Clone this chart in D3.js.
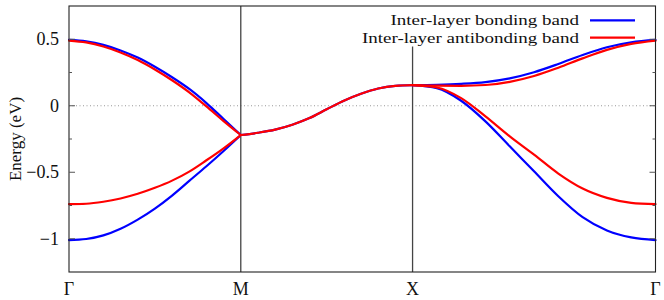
<!DOCTYPE html>
<html>
<head>
<meta charset="utf-8">
<script src="https://cdn.jsdelivr.net/npm/d3@7"></script>
<style>
  html, body { margin: 0; padding: 0; background: #fff; }
  svg { display: block; }
  text { font-family: "Liberation Serif", "Times New Roman", serif; fill: #111; }
</style>
</head>
<body>
<svg id="chart" width="664" height="300"></svg>
<script>
// ---- data ----
const kLabels = ["Γ", "M", "X", "Γ"];
const kPos = [0, 1, 2, 3.4142];           // path distance of high-symmetry points
const frac = [0, 0.1, 0.2, 0.3, 0.4, 0.5, 0.6, 0.7, 0.8, 0.9, 1.0]; // sample fraction along each segment

// Inter-layer bonding band (blue), two branches, per segment
const bondUpperGM = [0.495, 0.484, 0.458, 0.416, 0.362, 0.293, 0.214, 0.126, 0.02, -0.1, -0.22];
const bondLowerGM = [-1.01, -1.002, -0.975, -0.925, -0.856, -0.773, -0.675, -0.565, -0.455, -0.34, -0.22];
const bondMX      = [-0.22, -0.203, -0.18, -0.143, -0.093, -0.027, 0.038, 0.09, 0.13, 0.15, 0.155];
const bondUpperXG = [0.155, 0.158, 0.165, 0.178, 0.206, 0.252, 0.314, 0.382, 0.44, 0.477, 0.495];
const bondLowerXG = [0.155, 0.1325, 0.0375, -0.1175, -0.305, -0.4925, -0.68, -0.8375, -0.9375, -0.99, -1.01];

// Inter-layer antibonding band (red)
const antiUpperGM = [0.49, 0.476, 0.446, 0.401, 0.344, 0.273, 0.192, 0.101, -0.005, -0.115, -0.22];
const antiLowerGM = [-0.74, -0.737, -0.722, -0.697, -0.662, -0.617, -0.563, -0.495, -0.41, -0.32, -0.22];
const antiMX      = [-0.22, -0.203, -0.18, -0.143, -0.093, -0.027, 0.038, 0.09, 0.13, 0.15, 0.155];
const antiUpperXG = [0.155, 0.151, 0.15, 0.156, 0.18, 0.224, 0.286, 0.356, 0.42, 0.465, 0.49];
const antiLowerXG = [0.155, 0.1375, 0.0575, -0.08, -0.23, -0.3675, -0.51, -0.6225, -0.6925, -0.73, -0.74];

const yTicks = [-1, -0.5, 0, 0.5];
const yMinorTicks = [-1, -0.75, -0.5, -0.25, 0, 0.25, 0.5];
const yTickLabels = ["−1", "−0.5", "0", "0.5"];
const legendLabels = ["Inter-layer bonding band", "Inter-layer antibonding band"];
const colors = ["#0000ff", "#ff0000"];

// ---- layout ----
const W = 664, H = 300;
const mLeft = 69, mRight = 655.5, mTop = 6, mBottom = 272;

const svg = d3.select("#chart");
const x = d3.scaleLinear().domain([kPos[0], kPos[3]]).range([mLeft, mRight]);
const y = d3.scaleLinear().domain([-1.25, 0.75]).range([mBottom, mTop]);

// zero line
svg.append("line")
  .attr("x1", mLeft).attr("x2", mRight)
  .attr("y1", y(0)).attr("y2", y(0))
  .attr("stroke", "#999").attr("stroke-width", 1)
  .attr("stroke-dasharray", "1,2.5");

// vertical lines at M and X
const legendBottom = 46.5;
svg.append("line")
  .attr("x1", x(kPos[1])).attr("x2", x(kPos[1]))
  .attr("y1", mTop).attr("y2", mBottom)
  .attr("stroke", "#444").attr("stroke-width", 1.3);
svg.append("line")
  .attr("x1", x(kPos[2])).attr("x2", x(kPos[2]))
  .attr("y1", legendBottom).attr("y2", mBottom)
  .attr("stroke", "#444").attr("stroke-width", 1.3);

// curves
function segPoints(vals, seg) {
  const a = kPos[seg], b = kPos[seg + 1];
  return vals.map((v, i) => [a + frac[i] * (b - a), v]);
}
const line = d3.line()
  .x(d => x(d[0])).y(d => y(d[1]))
  .curve(d3.curveMonotoneX);

const series = [
  { color: colors[0], segs: [[bondUpperGM, 0], [bondLowerGM, 0], [bondMX, 1], [bondUpperXG, 2], [bondLowerXG, 2]] },
  { color: colors[1], segs: [[antiUpperGM, 0], [antiLowerGM, 0], [antiMX, 1], [antiUpperXG, 2], [antiLowerXG, 2]] }
];
const gCurves = svg.append("g");
series.forEach(s => {
  s.segs.forEach(([vals, seg]) => {
    gCurves.append("path")
      .attr("d", line(segPoints(vals, seg)))
      .attr("fill", "none")
      .attr("stroke", s.color)
      .attr("stroke-width", 2.2)
      .attr("stroke-linejoin", "round")
      .attr("stroke-linecap", "round");
  });
});

// frame
svg.append("rect")
  .attr("x", mLeft).attr("y", mTop)
  .attr("width", mRight - mLeft).attr("height", mBottom - mTop)
  .attr("fill", "none").attr("stroke", "#222").attr("stroke-width", 1.1);

// y ticks (left and mirrored right)
yMinorTicks.forEach(v => {
  const major = yTicks.includes(v);
  const len = major ? 6 : 3;
  svg.append("line").attr("x1", mLeft).attr("x2", mLeft + len)
    .attr("y1", y(v)).attr("y2", y(v)).attr("stroke", "#555").attr("stroke-width", 1);
  svg.append("line").attr("x1", mRight).attr("x2", mRight - len)
    .attr("y1", y(v)).attr("y2", y(v)).attr("stroke", "#555").attr("stroke-width", 1);
});
yTicks.forEach((v, i) => {
  svg.append("text")
    .attr("x", mLeft - 10).attr("y", y(v)).attr("dy", "0.34em")
    .attr("text-anchor", "end").attr("font-size", 18)
    .text(yTickLabels[i]);
});

// x labels
kPos.forEach((p, i) => {
  svg.append("text")
    .attr("x", x(p)).attr("y", 295)
    .attr("text-anchor", "middle").attr("font-size", 18)
    .text(kLabels[i]);
});

// y axis label
svg.append("text")
  .attr("transform", `translate(21,${(mTop + mBottom) / 2}) rotate(-90)`)
  .attr("text-anchor", "middle").attr("font-size", 17)
  .text("Energy (eV)");

// legend: compact font height, width matched to the reference's wider serif
const legY = [20.3, 37.6];
const legFont = 15.5, legWidthFont = 19;
legendLabels.forEach((lab, i) => {
  const t = svg.append("text")
    .attr("x", 579).attr("y", legY[i]).attr("dy", "0.32em")
    .attr("text-anchor", "end").attr("font-size", legWidthFont)
    .text(lab);
  const natural = t.node().getComputedTextLength();
  t.attr("font-size", legFont)
   .attr("textLength", natural)
   .attr("lengthAdjust", "spacingAndGlyphs");
  svg.append("line")
    .attr("x1", 590).attr("x2", 635)
    .attr("y1", legY[i]).attr("y2", legY[i])
    .attr("stroke", colors[i]).attr("stroke-width", 2.2);
});
</script>
</body>
</html>
